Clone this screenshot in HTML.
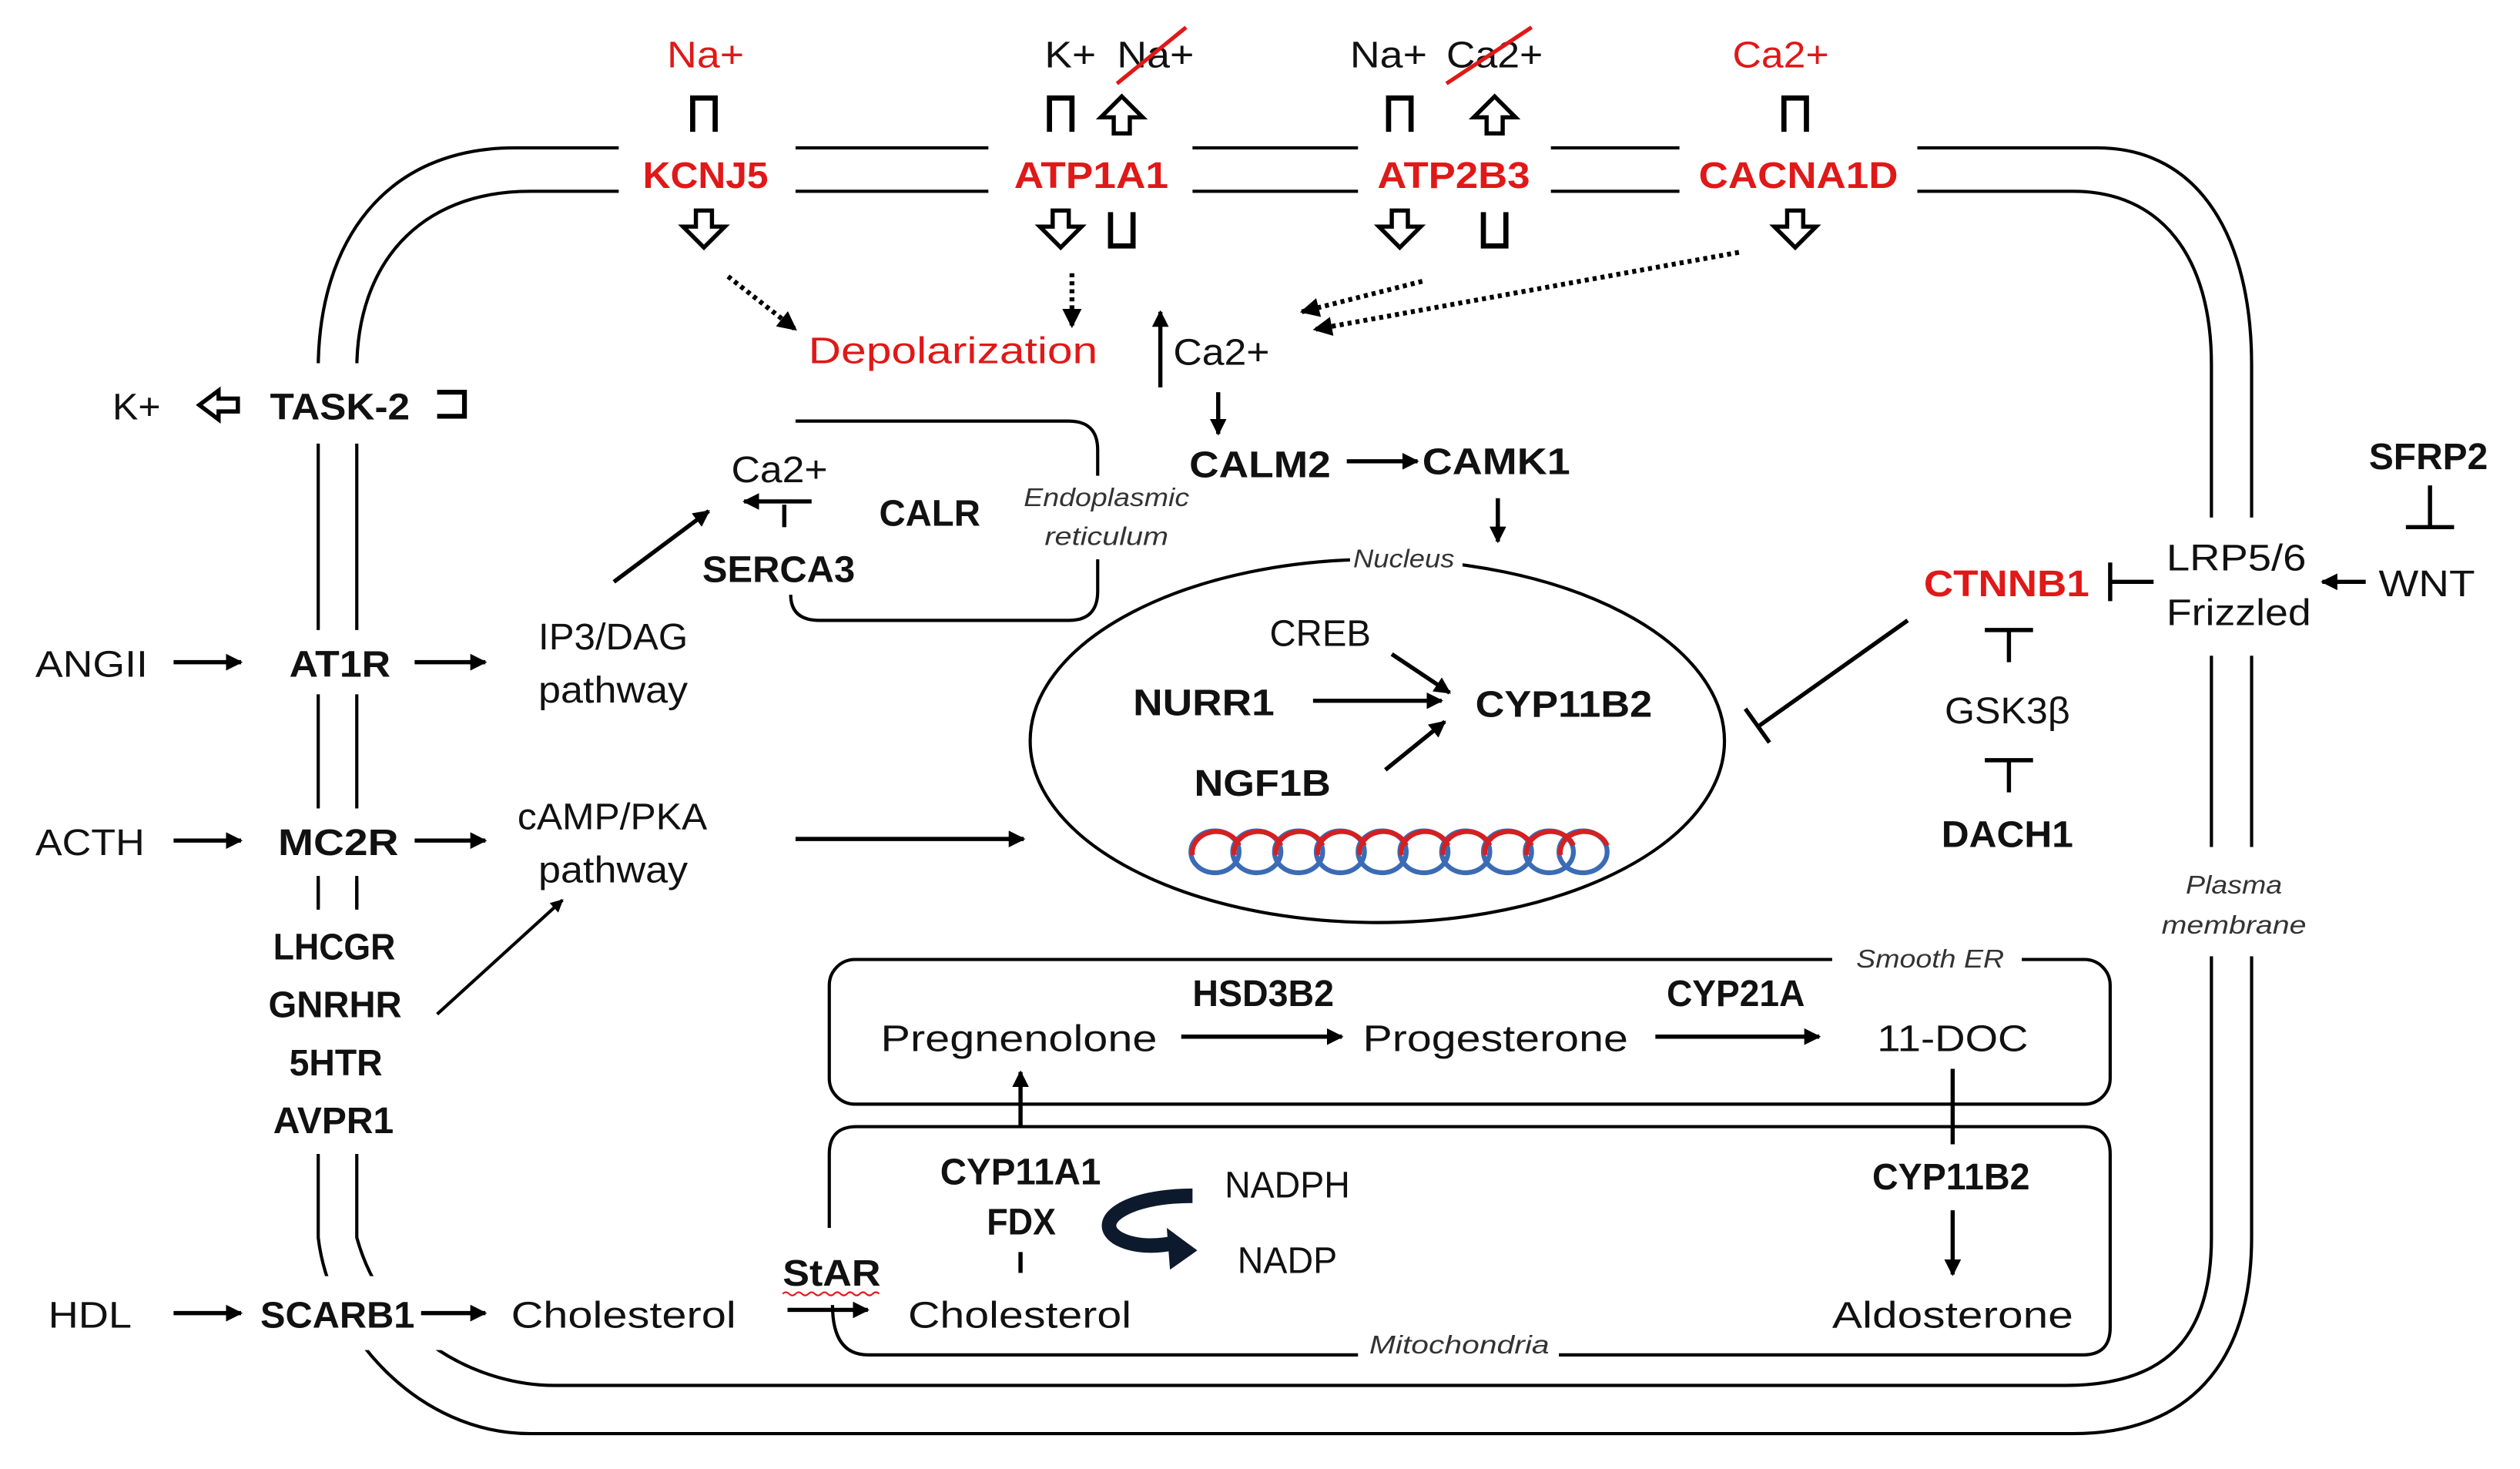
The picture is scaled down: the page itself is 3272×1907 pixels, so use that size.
<!DOCTYPE html>
<html><head><meta charset="utf-8"><style>
html,body{margin:0;padding:0;background:#fff}
svg{display:block}
text{font-family:"Liberation Sans",sans-serif;font-size:23px;fill:#111}
.b{font-weight:bold}
.r{fill:#e01818}
.i{font-style:italic;font-size:16px;fill:#333}
</style></head><body>
<svg width="3272" height="1907" viewBox="0 0 1568 914" preserveAspectRatio="none" xmlns="http://www.w3.org/2000/svg">
<defs>
<marker id="a" viewBox="0 0 10 10" refX="9" refY="5" markerWidth="4" markerHeight="4" orient="auto"><path d="M0,0L10,5L0,10z" fill="#000"/></marker>
<marker id="as" viewBox="0 0 10 10" refX="9" refY="5" markerWidth="5" markerHeight="5" orient="auto"><path d="M0,0L10,5L0,10z" fill="#000"/></marker>
<path id="dn" d="M-5,-12 L5,-12 L5,-2 L13,-2 L0,11 L-13,-2 L-5,-2 Z" fill="#fff" stroke="#000" stroke-width="2.6"/>
<path id="ch" d="M-7,11 L-7,-10 L7,-10 L7,11" fill="none" stroke="#000" stroke-width="3.2"/>
</defs>
<rect width="1568" height="914" fill="#fff"/>
<g fill="none" stroke="#000" stroke-width="2">
<!-- outer membrane -->
<path d="M198,700 L198,230 C198,150 240,92 320,92 L1305,92 C1370,92 1401,150 1401,227 L1401,770 C1401,850 1360,892 1290,892 L330,892 C260,892 205,830 198,770 Z"/>
<path d="M222,700 L222,230 C222,165 260,119 330,119 L1290,119 C1345,119 1376,160 1376,227 L1376,770 C1376,835 1345,862 1285,862 L345,862 C300,862 240,835 222,770 Z"/>
<!-- ER -->
<path d="M495,262 L665,262 Q683,262 683,280 L683,368 Q683,386 665,386 L510,386 Q492,386 492,370"/>
<!-- nucleus -->
<ellipse cx="857" cy="461" rx="216" ry="113"/>
<!-- smooth ER -->
<rect x="516" y="597" width="797" height="90" rx="16"/>
<!-- mito -->
<path d="M516,764 L516,718 Q516,701 533,701 L1296,701 Q1313,701 1313,718 L1313,826 Q1313,843 1296,843 L540,843 Q518,843 518,812"/>
</g>
<!-- white gaps -->
<g fill="#fff">
<rect x="385" y="80" width="110" height="50"/><rect x="615" y="80" width="127" height="50"/>
<rect x="845" y="80" width="120" height="50"/><rect x="1045" y="80" width="148" height="50"/>
<rect x="185" y="226" width="50" height="50"/><rect x="185" y="392" width="50" height="40"/>
<rect x="185" y="503" width="50" height="42"/><rect x="185" y="566" width="50" height="152"/>
<rect x="185" y="794" width="110" height="46"/>
<rect x="1360" y="322" width="55" height="86"/><rect x="1360" y="527" width="55" height="68"/>
<rect x="675" y="296" width="20" height="52"/>
<rect x="840" y="335" width="70" height="25"/>
<rect x="1140" y="588" width="118" height="20"/>
<rect x="845" y="835" width="125" height="20"/>
</g>
<!-- membrane short segments between MC2R and LHCGR -->
<g stroke="#000" stroke-width="2"><line x1="198" y1="548" x2="198" y2="565"/><line x1="222" y1="548" x2="222" y2="565"/></g>
<!-- top ions -->
<text x="415" y="42" class="r" textLength="48" lengthAdjust="spacingAndGlyphs">Na+</text>
<text x="650" y="42" textLength="32" lengthAdjust="spacingAndGlyphs">K+</text>
<text x="695" y="42" textLength="48" lengthAdjust="spacingAndGlyphs">Na+</text>
<line x1="695" y1="52" x2="738" y2="17" stroke="#e01818" stroke-width="2.5"/>
<text x="840" y="42" textLength="48" lengthAdjust="spacingAndGlyphs">Na+</text>
<text x="900" y="42" textLength="60" lengthAdjust="spacingAndGlyphs">Ca2+</text>
<line x1="900" y1="52" x2="953" y2="17" stroke="#e01818" stroke-width="2.5"/>
<text x="1078" y="42" class="r" textLength="60" lengthAdjust="spacingAndGlyphs">Ca2+</text>
<use href="#ch" x="438" y="71"/><use href="#ch" x="660" y="71"/><use href="#ch" x="871" y="71"/><use href="#ch" x="1117" y="71"/>
<use href="#dn" transform="translate(698,71) rotate(180)"/><use href="#dn" transform="translate(930,71) rotate(180)"/>
<use href="#dn" x="438" y="143"/><use href="#dn" x="660" y="143"/><use href="#dn" x="871" y="143"/><use href="#dn" x="1117" y="143"/>
<use href="#ch" transform="translate(698,143) rotate(180)"/><use href="#ch" transform="translate(930,143) rotate(180)"/>
<text x="400" y="117" class="b r" textLength="78" lengthAdjust="spacingAndGlyphs">KCNJ5</text>
<text x="631" y="117" class="b r" textLength="96" lengthAdjust="spacingAndGlyphs">ATP1A1</text>
<text x="857" y="117" class="b r" textLength="95" lengthAdjust="spacingAndGlyphs">ATP2B3</text>
<text x="1057" y="117" class="b r" textLength="124" lengthAdjust="spacingAndGlyphs">CACNA1D</text>
<!-- dotted -->
<g stroke="#000" stroke-width="3" stroke-dasharray="2.5,2.5" fill="none" marker-end="url(#a)">
<line x1="453" y1="172" x2="495" y2="205"/><line x1="667" y1="170" x2="667" y2="203"/>
<line x1="885" y1="175" x2="810" y2="194"/><line x1="1082" y1="157" x2="818" y2="205"/>
</g>
<text x="503" y="226" class="r" textLength="180" lengthAdjust="spacingAndGlyphs">Depolarization</text>
<g stroke="#000" stroke-width="2.6" fill="none" marker-end="url(#a)">
<line x1="722" y1="241" x2="722" y2="194"/>
<line x1="758" y1="244" x2="758" y2="270"/>
<line x1="838" y1="287" x2="882" y2="287"/>
<line x1="932" y1="310" x2="932" y2="337"/>
<line x1="505" y1="312" x2="463" y2="312"/>
<line x1="382" y1="362" x2="441" y2="318"/>
<line x1="108" y1="412" x2="150" y2="412"/><line x1="258" y1="412" x2="302" y2="412"/>
<line x1="108" y1="523" x2="150" y2="523"/><line x1="258" y1="523" x2="302" y2="523"/>
<line x1="495" y1="522" x2="637" y2="522"/>
<line x1="272" y1="631" x2="350" y2="560" stroke-width="2"/>
<line x1="108" y1="817" x2="150" y2="817"/><line x1="262" y1="817" x2="302" y2="817"/>
<line x1="490" y1="815" x2="540" y2="815"/>
<line x1="866" y1="407" x2="902" y2="431"/><line x1="817" y1="436" x2="897" y2="436"/><line x1="862" y1="479" x2="899" y2="449"/>
<line x1="1472" y1="362" x2="1445" y2="362"/>
<line x1="735" y1="645" x2="835" y2="645"/><line x1="1030" y1="645" x2="1132" y2="645"/>
<line x1="635" y1="701" x2="635" y2="667"/>
<line x1="1215" y1="753" x2="1215" y2="793"/>
</g>
<g stroke="#000" stroke-width="2.6">
<line x1="488" y1="314" x2="488" y2="328"/>
<line x1="635" y1="779" x2="635" y2="792"/>
<line x1="1215" y1="665" x2="1215" y2="712"/>
<line x1="1187" y1="386" x2="1094" y2="452"/><line x1="1086" y1="441" x2="1101" y2="462"/>
<line x1="1313" y1="350" x2="1313" y2="374"/><line x1="1313" y1="362" x2="1340" y2="362"/>
<line x1="1512" y1="302" x2="1512" y2="327"/><line x1="1497" y1="328" x2="1527" y2="328"/>
<line x1="1235" y1="392" x2="1265" y2="392"/><line x1="1250" y1="392" x2="1250" y2="412"/>
<line x1="1235" y1="473" x2="1265" y2="473"/><line x1="1250" y1="473" x2="1250" y2="493"/>
</g>
<!-- K+ TASK-2 -->
<text x="70" y="261" textLength="30" lengthAdjust="spacingAndGlyphs">K+</text>
<path d="M136,243 L136,248 L148,248 L148,256 L136,256 L136,261 L124,252 Z" fill="#fff" stroke="#000" stroke-width="2.6"/>
<text x="168" y="261" class="b" textLength="87" lengthAdjust="spacingAndGlyphs">TASK-2</text>
<path d="M272,244 L289,244 L289,259 L272,259" fill="none" stroke="#000" stroke-width="3"/>
<text x="730" y="227" textLength="60" lengthAdjust="spacingAndGlyphs">Ca2+</text>
<text x="740" y="297" class="b" textLength="88" lengthAdjust="spacingAndGlyphs">CALM2</text>
<text x="885" y="295" class="b" textLength="92" lengthAdjust="spacingAndGlyphs">CAMK1</text>
<text x="455" y="300" textLength="60" lengthAdjust="spacingAndGlyphs">Ca2+</text>
<text x="437" y="362" class="b" textLength="95" lengthAdjust="spacingAndGlyphs">SERCA3</text>
<text x="547" y="327" class="b" textLength="63" lengthAdjust="spacingAndGlyphs">CALR</text>
<text x="637" y="315" class="i" textLength="103" lengthAdjust="spacingAndGlyphs">Endoplasmic</text>
<text x="650" y="339" class="i" textLength="77" lengthAdjust="spacingAndGlyphs">reticulum</text>
<text x="842" y="353" class="i" textLength="63" lengthAdjust="spacingAndGlyphs">Nucleus</text>
<text x="22" y="421" textLength="70" lengthAdjust="spacingAndGlyphs">ANGII</text>
<text x="180" y="421" class="b" textLength="63" lengthAdjust="spacingAndGlyphs">AT1R</text>
<text x="335" y="404" textLength="93" lengthAdjust="spacingAndGlyphs">IP3/DAG</text>
<text x="335" y="437" textLength="93" lengthAdjust="spacingAndGlyphs">pathway</text>
<text x="22" y="532" textLength="68" lengthAdjust="spacingAndGlyphs">ACTH</text>
<text x="173" y="532" class="b" textLength="75" lengthAdjust="spacingAndGlyphs">MC2R</text>
<text x="322" y="516" textLength="118" lengthAdjust="spacingAndGlyphs">cAMP/PKA</text>
<text x="335" y="549" textLength="93" lengthAdjust="spacingAndGlyphs">pathway</text>
<text x="170" y="597" class="b" textLength="76" lengthAdjust="spacingAndGlyphs">LHCGR</text>
<text x="167" y="633" class="b" textLength="83" lengthAdjust="spacingAndGlyphs">GNRHR</text>
<text x="180" y="669" class="b" textLength="58" lengthAdjust="spacingAndGlyphs">5HTR</text>
<text x="170" y="705" class="b" textLength="75" lengthAdjust="spacingAndGlyphs">AVPR1</text>
<text x="30" y="826" textLength="52" lengthAdjust="spacingAndGlyphs">HDL</text>
<text x="162" y="826" class="b" textLength="96" lengthAdjust="spacingAndGlyphs">SCARB1</text>
<text x="318" y="826" textLength="140" lengthAdjust="spacingAndGlyphs">Cholesterol</text>
<text x="487" y="800" class="b" textLength="61" lengthAdjust="spacingAndGlyphs">StAR</text>
<path d="M487,805 q2,-2 4,0 t4,0 t4,0 t4,0 t4,0 t4,0 t4,0 t4,0 t4,0 t4,0 t4,0 t4,0 t4,0 t4,0 t4,0" fill="none" stroke="#e01818" stroke-width="1"/>
<text x="565" y="826" textLength="139" lengthAdjust="spacingAndGlyphs">Cholesterol</text>
<text x="790" y="402" textLength="63" lengthAdjust="spacingAndGlyphs">CREB</text>
<text x="705" y="445" class="b" textLength="88" lengthAdjust="spacingAndGlyphs">NURR1</text>
<text x="918" y="446" class="b" textLength="110" lengthAdjust="spacingAndGlyphs">CYP11B2</text>
<text x="743" y="495" class="b" textLength="85" lengthAdjust="spacingAndGlyphs">NGF1B</text>
<!-- DNA -->
<g fill="none" stroke-width="3">
<g stroke="#3b6bb5">
<ellipse cx="756" cy="530" rx="15" ry="13"/><ellipse cx="782" cy="530" rx="15" ry="13"/><ellipse cx="808" cy="530" rx="15" ry="13"/><ellipse cx="834" cy="530" rx="15" ry="13"/><ellipse cx="860" cy="530" rx="15" ry="13"/><ellipse cx="886" cy="530" rx="15" ry="13"/><ellipse cx="912" cy="530" rx="15" ry="13"/><ellipse cx="938" cy="530" rx="15" ry="13"/><ellipse cx="964" cy="530" rx="15" ry="13"/><ellipse cx="985" cy="530" rx="15" ry="13"/>
</g>
<path stroke="#d42020" d="M742,532 A15,13 0 0 1 771,526 M768,532 A15,13 0 0 1 797,526 M794,532 A15,13 0 0 1 823,526 M820,532 A15,13 0 0 1 849,526 M846,532 A15,13 0 0 1 875,526 M872,532 A15,13 0 0 1 901,526 M898,532 A15,13 0 0 1 927,526 M924,532 A15,13 0 0 1 953,526 M950,532 A15,13 0 0 1 979,526 M971,532 A15,13 0 0 1 1000,526"/>
</g>
<text x="1197" y="371" class="b r" textLength="103" lengthAdjust="spacingAndGlyphs">CTNNB1</text>
<text x="1348" y="355" textLength="87" lengthAdjust="spacingAndGlyphs">LRP5/6</text>
<text x="1348" y="389" textLength="90" lengthAdjust="spacingAndGlyphs">Frizzled</text>
<text x="1480" y="371" textLength="60" lengthAdjust="spacingAndGlyphs">WNT</text>
<text x="1474" y="292" class="b" textLength="74" lengthAdjust="spacingAndGlyphs">SFRP2</text>
<text x="1210" y="450" textLength="78" lengthAdjust="spacingAndGlyphs">GSK3β</text>
<text x="1208" y="527" class="b" textLength="82" lengthAdjust="spacingAndGlyphs">DACH1</text>
<text x="1360" y="556" class="i" textLength="60" lengthAdjust="spacingAndGlyphs">Plasma</text>
<text x="1345" y="581" class="i" textLength="90" lengthAdjust="spacingAndGlyphs">membrane</text>
<text x="1155" y="602" class="i" textLength="92" lengthAdjust="spacingAndGlyphs">Smooth ER</text>
<text x="548" y="654" textLength="172" lengthAdjust="spacingAndGlyphs">Pregnenolone</text>
<text x="742" y="626" class="b" textLength="88" lengthAdjust="spacingAndGlyphs">HSD3B2</text>
<text x="848" y="654" textLength="165" lengthAdjust="spacingAndGlyphs">Progesterone</text>
<text x="1037" y="626" class="b" textLength="86" lengthAdjust="spacingAndGlyphs">CYP21A</text>
<text x="1168" y="654" textLength="94" lengthAdjust="spacingAndGlyphs">11-DOC</text>
<text x="585" y="737" class="b" textLength="100" lengthAdjust="spacingAndGlyphs">CYP11A1</text>
<text x="614" y="768" class="b" textLength="43" lengthAdjust="spacingAndGlyphs">FDX</text>
<text x="762" y="745" textLength="78" lengthAdjust="spacingAndGlyphs">NADPH</text>
<text x="770" y="792" textLength="62" lengthAdjust="spacingAndGlyphs">NADP</text>
<path d="M742,744 C700,744 680,760 695,770 C705,776 720,776 732,773" fill="none" stroke="#0d1a2e" stroke-width="9"/>
<path d="M726,764 L745,778 L728,790 Z" fill="#0d1a2e"/>
<text x="1165" y="740" class="b" textLength="98" lengthAdjust="spacingAndGlyphs">CYP11B2</text>
<text x="1140" y="826" textLength="150" lengthAdjust="spacingAndGlyphs">Aldosterone</text>
<text x="852" y="842" class="i" textLength="112" lengthAdjust="spacingAndGlyphs">Mitochondria</text>
</svg>
</body></html>
